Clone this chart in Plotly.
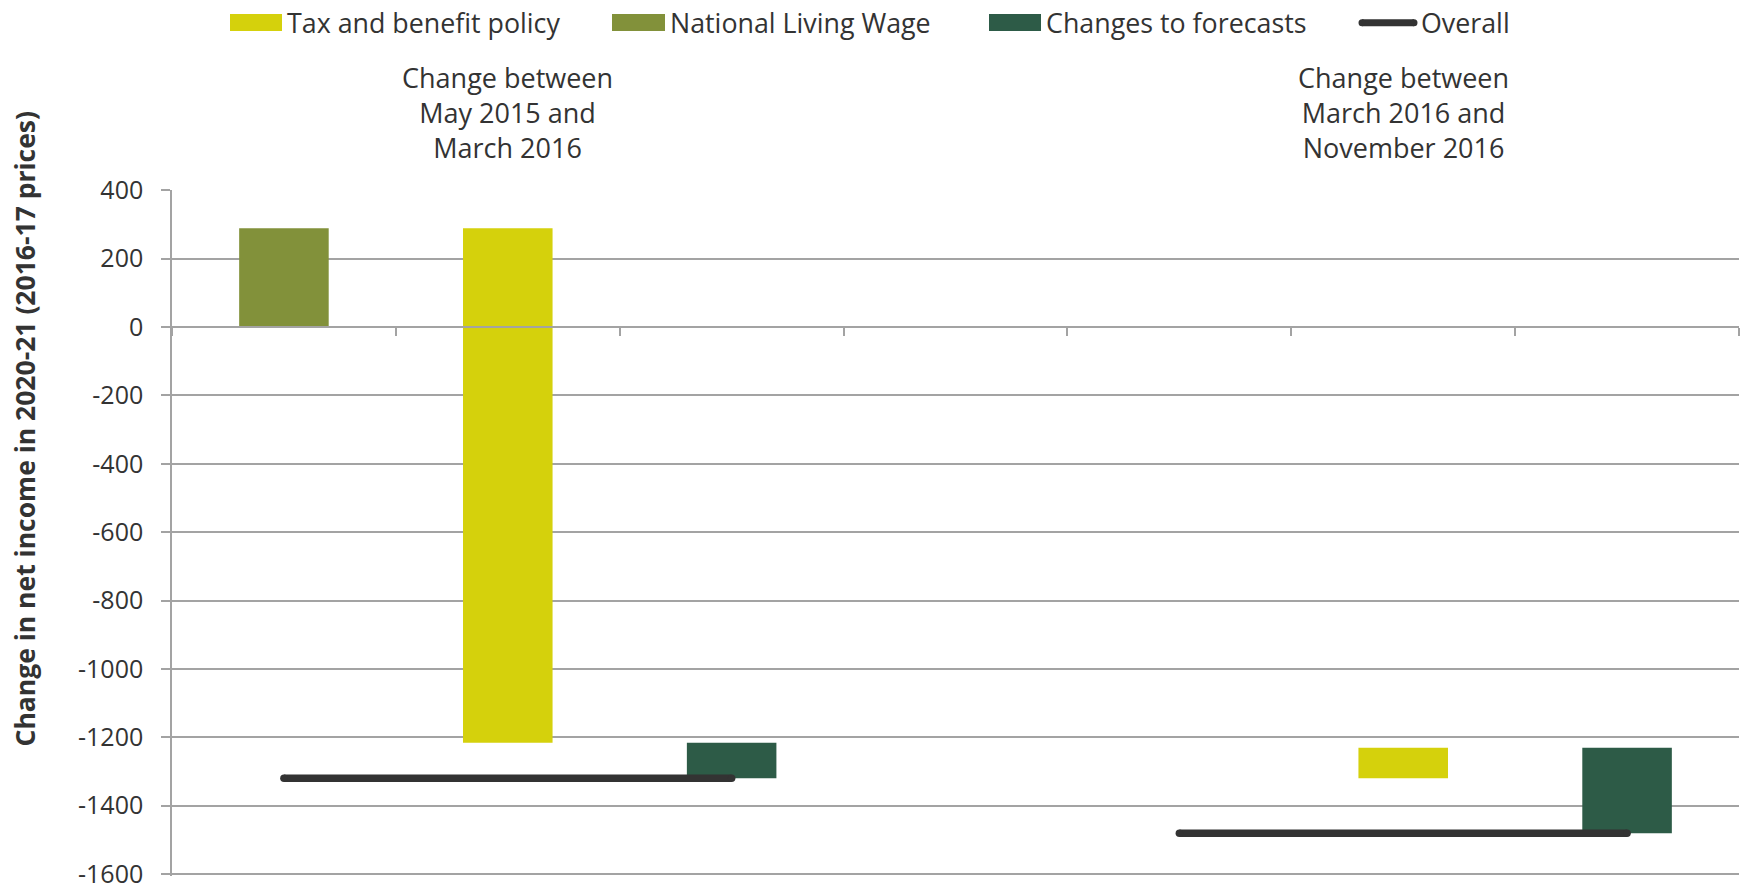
import plotly.graph_objects as go

# two comparison periods, three components each (waterfall style)
periods = ["Change between<br>May 2015 and<br>March 2016",
           "Change between<br>March 2016 and<br>November 2016"]
start_level = [0, -1320]
nlw = [289, 0]
tax_benefit = [-1505, 89]
forecasts = [-104, -250]
overall = [-1320, -1481]

y_ticks = [400, 200, 0, -200, -400, -600, -800, -1000, -1200, -1400, -1600]

C_TAX = "#D5D10C"
C_NLW = "#82913A"
C_FC = "#2D5B47"
C_ALL = "#333333"
GRID = "#A3A3A3"
TXT = "#333333"
FONT = "Open Sans"

# slot positions: period i uses slots 4*i, 4*i+1, 4*i+2
x_nlw = [4 * i for i in range(2)]
x_tax = [4 * i + 1 for i in range(2)]
x_fc = [4 * i + 2 for i in range(2)]

base_nlw = start_level
base_tax = [s + n for s, n in zip(start_level, nlw)]
base_fc = [b + t for b, t in zip(base_tax, tax_benefit)]

fig = go.Figure()
fig.add_trace(go.Bar(x=x_nlw, y=nlw, base=base_nlw, width=0.4,
                     marker=dict(color=C_NLW, line_width=0), name="National Living Wage"))
fig.add_trace(go.Bar(x=x_tax, y=tax_benefit, base=base_tax, width=0.4,
                     marker=dict(color=C_TAX, line_width=0), name="Tax and benefit policy"))
fig.add_trace(go.Bar(x=x_fc, y=forecasts, base=base_fc, width=0.4,
                     marker=dict(color=C_FC, line_width=0), name="Changes to forecasts"))
for i in range(2):
    fig.add_trace(go.Scatter(x=[x_nlw[i], x_fc[i]], y=[overall[i], overall[i]],
                             mode="lines+markers", line=dict(color=C_ALL, width=7.5),
                             marker=dict(color=C_ALL, size=7.5), name="Overall"))

# page coordinates of the plot area (bottom kept so the -1600 label stays on the page)
W, H = 1744, 894
PX0, PX1, PY0, PY1 = 172, 1739, 190, 876


def px(x):
    return (x - PX0) / (PX1 - PX0)


def py(y):
    return (PY1 - y) / (PY1 - PY0)


# custom legend along the top
legend_items = [("Tax and benefit policy", C_TAX, 230, 282),
                ("National Living Wage", C_NLW, 612, 665),
                ("Changes to forecasts", C_FC, 989, 1041)]
shapes = []
annotations = []
for label, col, x0, x1 in legend_items:
    shapes.append(dict(type="rect", xref="paper", yref="paper", x0=px(x0), x1=px(x1),
                       y0=py(31), y1=py(14), fillcolor=col, line_width=0))
    annotations.append(dict(text=label, xref="paper", yref="paper", x=px(x1 + 3), y=py(22.5),
                            xanchor="left", yanchor="middle", showarrow=False,
                            font=dict(size=26.8, color=TXT, family=FONT)))
shapes.append(dict(type="line", xref="paper", yref="paper", x0=px(1362), x1=px(1414),
                   y0=py(22.7), y1=py(22.7), line=dict(color=C_ALL, width=7)))
for cx in (1362, 1414):
    shapes.append(dict(type="circle", xref="paper", yref="paper", x0=px(cx - 3.5), x1=px(cx + 3.5),
                       y0=py(26.2), y1=py(19.2), fillcolor=C_ALL, line_width=0))
annotations.append(dict(text="Overall", xref="paper", yref="paper", x=px(1419), y=py(22.5),
                        xanchor="left", yanchor="middle", showarrow=False,
                        font=dict(size=26.8, color=TXT, family=FONT)))

# period headings
for i, p in enumerate(periods):
    annotations.append(dict(text=p, xref="x", yref="paper", x=x_tax[i], y=py(112.5),
                            xanchor="center", yanchor="middle", showarrow=False,
                            font=dict(size=27, color=TXT, family=FONT)))

annotations.append(dict(text="<b>Change in net income in 2020-21 (2016-17 prices)</b>",
                        xref="paper", yref="paper", x=px(24.5), y=py(429), textangle=-90,
                        xanchor="center", yanchor="middle", showarrow=False,
                        font=dict(size=26.5, color=TXT, family=FONT)))

ymin, ymax = -1606, 401
fig.update_layout(
    width=W, height=H,
    margin=dict(l=PX0, r=W - PX1, t=PY0, b=H - PY1),
    plot_bgcolor="white", paper_bgcolor="white",
    showlegend=False, barmode="overlay",
    font=dict(family=FONT, color=TXT),
    shapes=shapes, annotations=annotations,
    xaxis=dict(range=[-0.5, 6.5], tickvals=[k - 0.5 for k in range(8)],
               showticklabels=False, showgrid=False, zeroline=False,
               ticks="outside", ticklen=8, tickcolor=GRID, tickwidth=2,
               showline=True, linecolor=GRID, linewidth=2,
               anchor="free", position=(0 - ymin) / (ymax - ymin)),
    yaxis=dict(range=[ymin, ymax], tickvals=y_ticks, ticktext=[str(v) for v in y_ticks],
               showgrid=True, gridcolor=GRID, gridwidth=1.5, zeroline=False,
               ticks="outside", ticklen=9, tickcolor=GRID, tickwidth=1.5,
               showline=True, linecolor=GRID, linewidth=1.5,
               ticklabelstandoff=13,
               tickfont=dict(size=25, color=TXT, family=FONT)),
)

# drop the default 8px body margin so the figure fills the window exactly
fig.write_html("out.html", config={"displayModeBar": False},
               post_script="document.body.style.margin='0';")
